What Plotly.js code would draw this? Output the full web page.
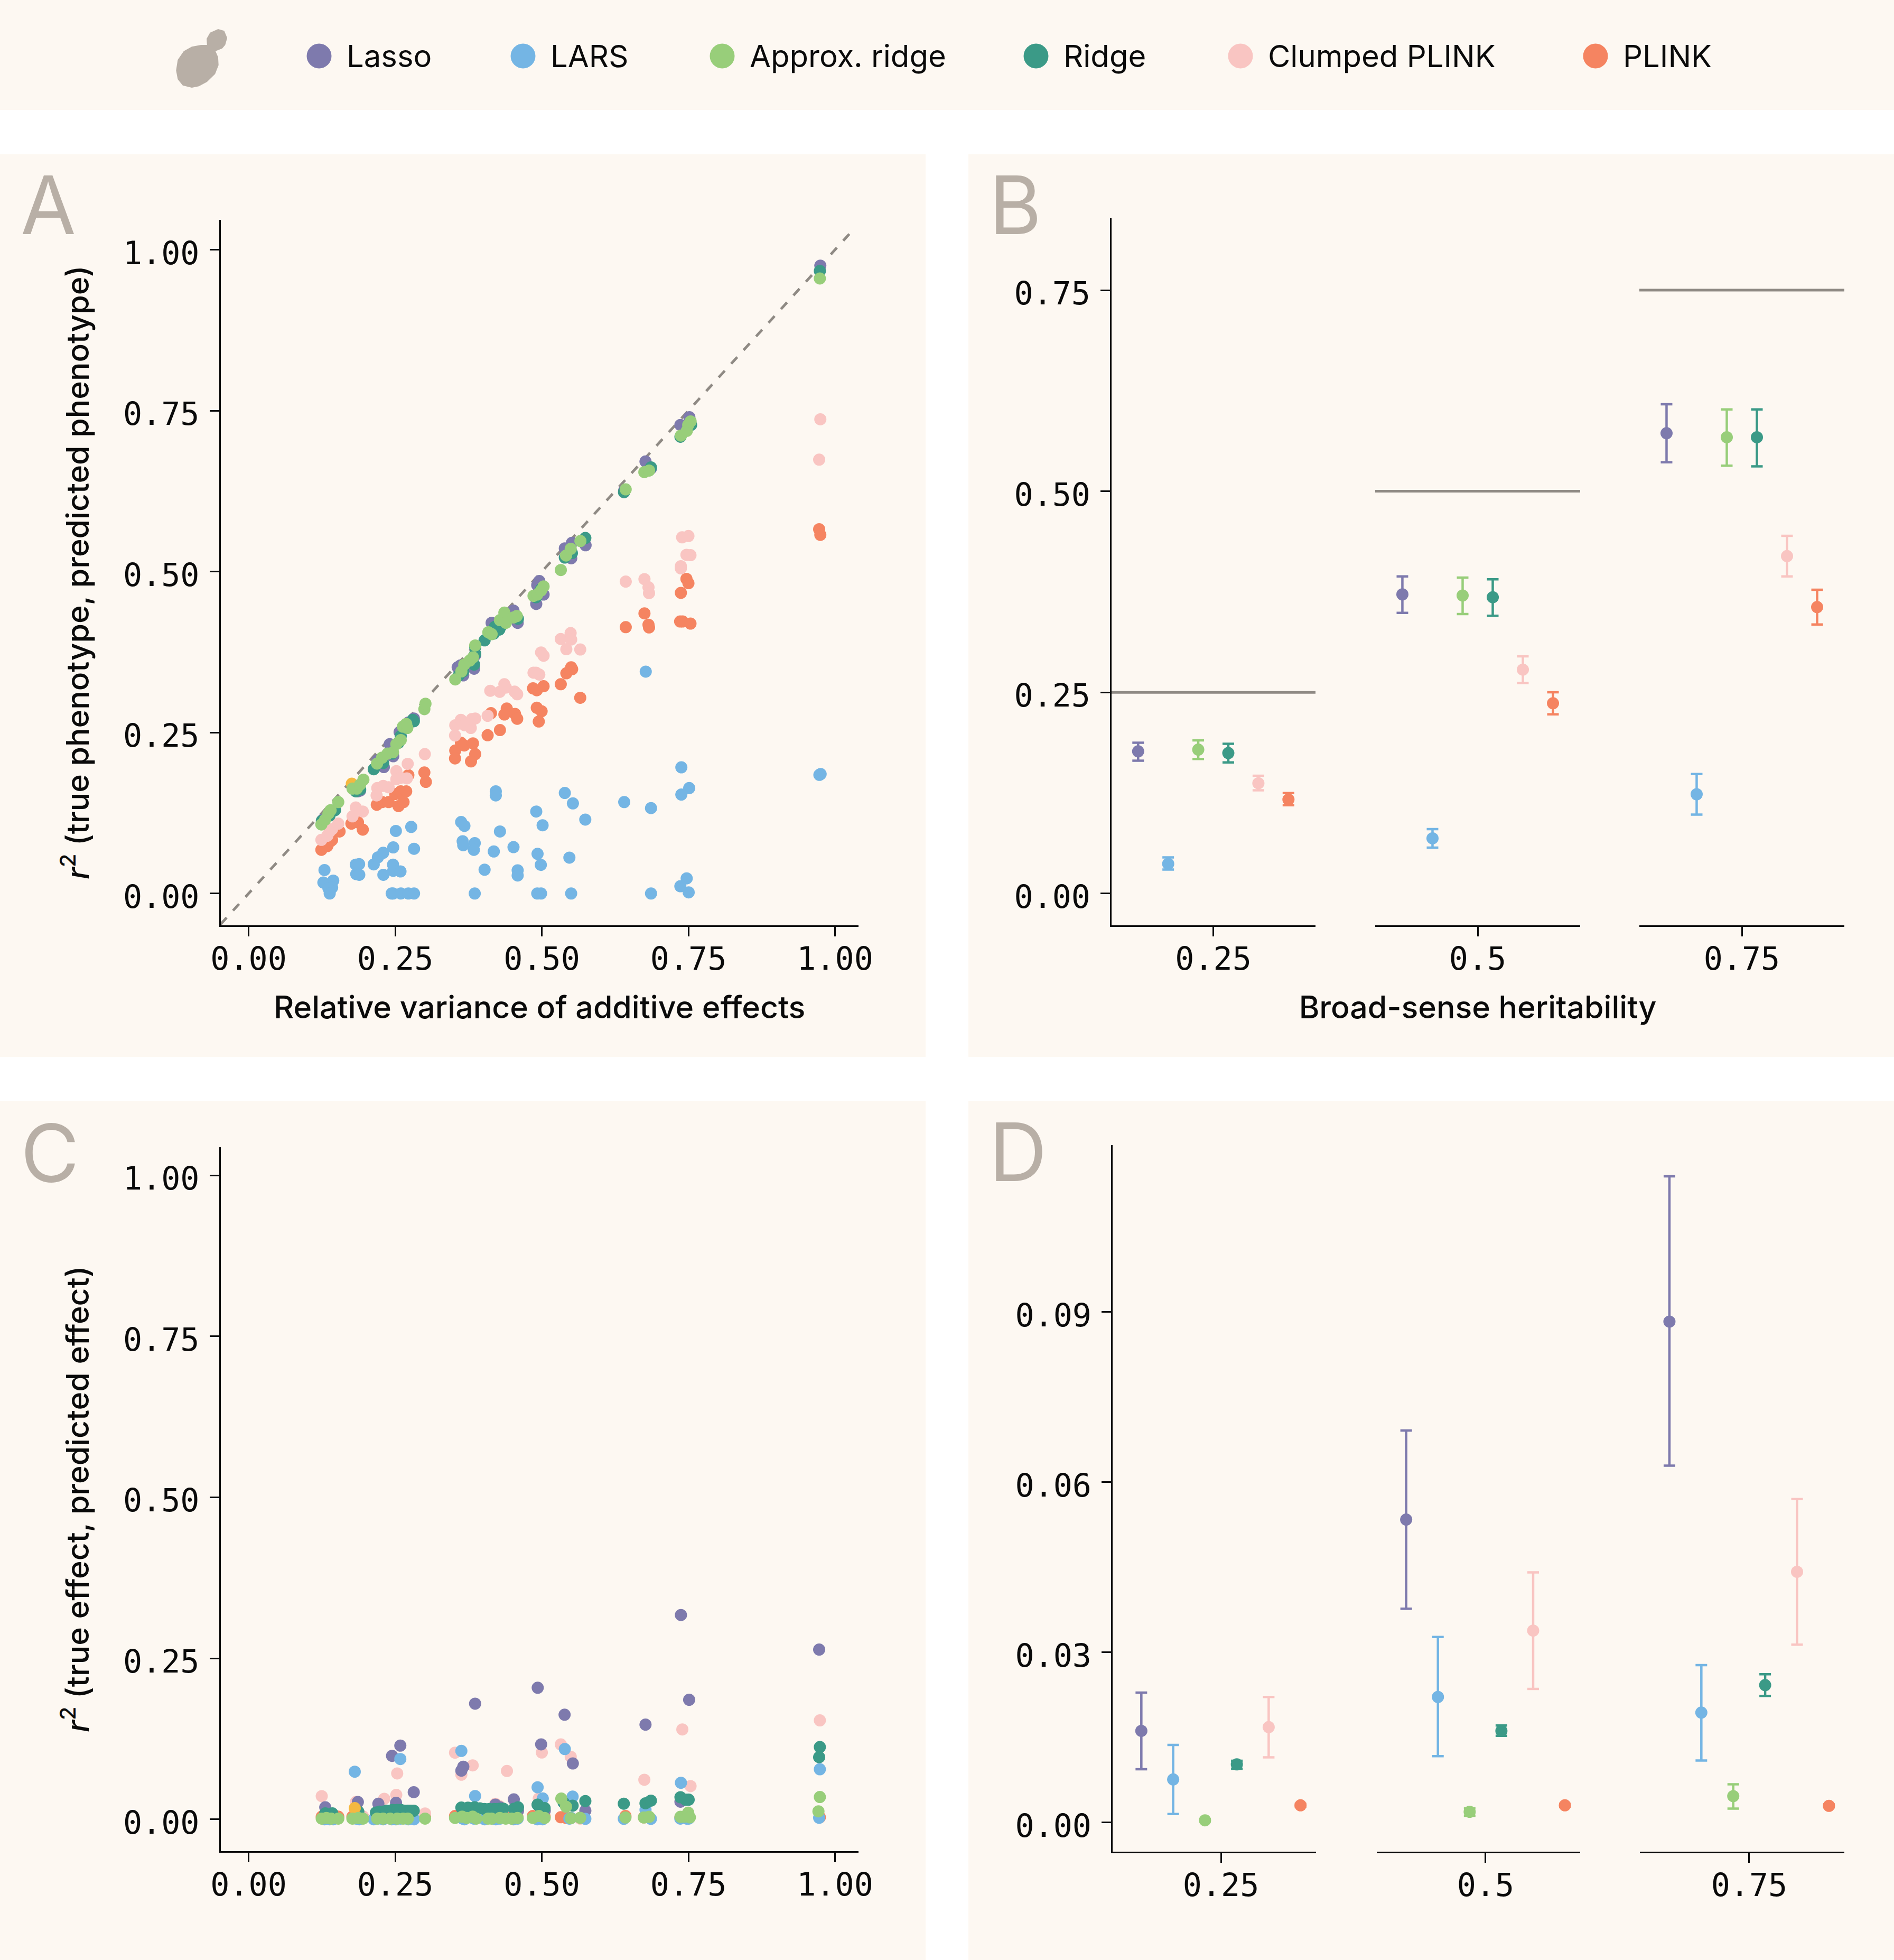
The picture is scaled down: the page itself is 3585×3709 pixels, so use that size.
<!DOCTYPE html>
<html><head><meta charset="utf-8">
<script src="https://cdn.plot.ly/plotly-3.0.1.min.js"></script>
<style>html,body{margin:0;padding:0;background:#fff}</style></head>
<body><div id="chart" style="width:3585px;height:3709px"></div>
<script>
const W=3585,H=3709;
const methods=['Lasso','LARS','Approx. ridge','Ridge','Clumped PLINK','PLINK'];
const colors=['#7E7AAD','#74B5E4','#98CE7A','#3B9A87','#F9C5C2','#F58461'];
const extraColor='#F5B841';
const heritabilityLabels=['0.25','0.5','0.75'];
const heritabilities=[0.25,0.5,0.75];
const scatterTicks=[0,0.25,0.5,0.75,1];
const scatterTickText=['0.00','0.25','0.50','0.75','1.00'];
const meanTicksB=[0,0.25,0.5,0.75];
const meanTickTextB=['0.00','0.25','0.50','0.75'];
const meanTicksD=[0,0.03,0.06,0.09];
const meanTickTextD=['0.00','0.03','0.06','0.09'];

// Panel A: relative additive variance (x) against r2 (y)
const plinkAx=[.1241,.1342,.1398,.1424,.1551,.1753,.1865,.1947,.2186,.2276,.2388,.25,.2556,.2594,.2642,.2687,.2724,.2997,.3023,.3524,.352,.362,.3677,.3826,.3864,.3792,.4076,.4286,.4133,.4402,.4361,.4543,.458,.485,.4914,.503,.4914,.4996,.4948,.5323,.5418,.55,.5517,.5655,.6431,.675,.6819,.6828,.7371,.7466,.75,.7358,.7401,.7535,.9729,.9749];
const plinkAy=[.0678,.0737,.0812,.0833,.0963,.1085,.1105,.0992,.1378,.142,.142,.1545,.1357,.1587,.142,.1587,.1838,.188,.1734,.222,.2098,.2341,.2299,.2332,.2165,.2052,.2458,.2538,.2801,.2873,.278,.2789,.2714,.3187,.3157,.322,.2885,.2831,.2672,.325,.3421,.3513,.3484,.304,.4137,.4351,.4175,.4133,.4669,.4887,.482,.4225,.4225,.4192,.5658,.557];
const clumpedAx=[.1241,.1342,.1424,.1529,.1379,.1772,.1828,.1947,.2194,.2183,.2295,.2388,.2519,.2519,.2594,.2698,.2713,.3005,.3524,.352,.362,.3684,.3789,.3807,.3864,.4076,.4121,.4282,.4361,.4387,.4536,.458,.4858,.4901,.4957,.4987,.503,.5323,.5491,.55,.5418,.5655,.6431,.675,.6819,.6828,.7392,.75,.7466,.7535,.7371,.7371,.9749,.9729];
const clumpedAy=[.0833,.0896,.1,.1085,.0959,.1198,.1336,.1273,.1637,.1524,.1671,.165,.1901,.1776,.1797,.1788,.2014,.2165,.2613,.2454,.2697,.2613,.2571,.2709,.2718,.276,.3149,.3132,.325,.3199,.3136,.3095,.343,.343,.34,.3744,.3693,.3953,.4045,.3945,.3794,.379,.4845,.4883,.4757,.4665,.5532,.5553,.526,.5255,.5084,.505,.7366,.6739];
const lassoAx=[.1267,.1398,.1865,.1902,.22,.2306,.2407,.2466,.2575,.2724,.2818,.3565,.3613,.366,.3845,.3864,.4144,.4218,.4517,.4588,.4957,.4922,.503,.4905,.5392,.5513,.5746,.5501,.6403,.6768,.686,.7363,.7516,.9749];
const lassoAy=[.1147,.1252,.1587,.16,.2069,.1964,.232,.2132,.2508,.2655,.2718,.3513,.3543,.3388,.3492,.3702,.4204,.41,.4393,.4204,.4853,.479,.4644,.4497,.5361,.5446,.5409,.5207,.6255,.671,.66,.7278,.7399,.9751];
const larsAx=[.1294,.1275,.1443,.1424,.1361,.1383,.1828,.1884,.1835,.1887,.2134,.2205,.2295,.2466,.2511,.2773,.2821,.2463,.2466,.259,.2298,.244,.2463,.2597,.2724,.2821,.3624,.368,.365,.366,.3856,.3841,.3856,.4215,.4215,.4286,.4181,.4517,.4024,.4588,.4588,.4905,.5013,.4927,.4983,.4922,.4987,.5392,.553,.5741,.547,.55,.6772,.6405,.6862,.6862,.7379,.7513,.7379,.747,.7362,.7504,.9733,.9754];
const larsAy=[.0364,.017,.02,.0092,.008,0,.0448,.0456,.0302,.029,.0452,.0561,.0632,.0716,.0972,.1034,.0695,.0448,.0352,.0343,.029,0,0,0,0,0,.111,.105,.0812,.075,.0783,.0678,0,.1587,.1524,.0963,.0653,.072,.0369,.036,.028,.1273,.106,.0616,.0444,0,0,.1562,.1399,.1148,.0557,0,.3446,.142,.1327,0,.196,.1637,.1537,.0235,.0113,.0017,.1843,.1855];
const ridgeAx=[.1249,.1379,.1473,.1828,.1902,.2134,.2295,.2444,.2556,.2594,.2724,.2799,.2818,.3584,.366,.3845,.3864,.3864,.4024,.4181,.42,.4275,.4312,.4368,.4592,.4901,.4987,.5392,.5513,.5742,.6402,.6861,.6829,.7364,.7545,.9741];
const ridgeAy=[.1127,.121,.1294,.1587,.1616,.193,.2027,.2173,.2341,.2446,.2634,.2697,.2676,.3388,.3451,.3555,.3723,.3827,.3932,.4037,.4142,.41,.4162,.4225,.4267,.4602,.4728,.5218,.5288,.5522,.6233,.6618,.6575,.7095,.7278,.967];
const approxAx=[.1241,.1305,.1361,.1398,.1529,.1772,.1846,.1902,.1958,.219,.2276,.2369,.2463,.2519,.2594,.2631,.2706,.2687,.2997,.3016,.3524,.3628,.3677,.377,.3826,.3864,.4088,.4144,.4286,.4361,.4387,.4573,.4517,.4858,.4922,.4987,.503,.5324,.5413,.5493,.5658,.643,.6748,.6829,.7372,.7472,.7496,.7537,.9741];
const approxAy=[.1072,.1147,.124,.1294,.142,.1629,.1629,.1692,.1767,.2018,.211,.2173,.2194,.232,.2383,.2592,.2571,.2634,.2864,.2948,.3325,.345,.3555,.3618,.3668,.3853,.4058,.4028,.4246,.4363,.4204,.4309,.4288,.4623,.4644,.4707,.477,.5024,.525,.5354,.5475,.6277,.6545,.657,.7113,.7186,.7278,.7333,.9553];
const extraAx=[.176];
const extraAy=[.1705];

// Panel C: relative additive variance (x) against effect r2 (y)
const plinkCx=[.1247,.1327,.1408,.1529,.177,.1871,.1951,.2192,.2293,.2414,.2534,.2635,.2715,.3009,.352,.3641,.3821,.4083,.4284,.4485,.4586,.4847,.4948,.5048,.5324,.5413,.5493,.5654,.6426,.674,.6829,.7364,.7496,.9741];
const plinkCy=[.004,.003,.003,.004,.004,.003,.004,.003,.002,.003,.002,.003,.002,.004,.005,.003,.003,.003,.002,.003,.003,.005,.004,.004,.0032,.002,.002,.002,.005,.003,.003,.003,.003,.0032];
const clumpedCx=[.1247,.183,.2313,.2518,.2534,.352,.3821,.3628,.4405,.5,.3009,.4948,.5324,.5493,.6748,.7396,.7536,.9741,.5654,.4208,.4284,.1951,.2715];
const clumpedCy=[.0359,.0268,.0318,.0378,.0712,.1034,.0837,.0692,.075,.1037,.009,.0323,.1162,.097,.0613,.1395,.0515,.1536,.001,.024,.02,.004,.012];
const lassoCx=[.2587,.2446,.2816,.1863,.2213,.2514,.3862,.3661,.3628,.4522,.4208,.4988,.493,.1307,.5388,.5529,.6768,.7372,.7512,.9729,.5742,.7364,.4594,.4284,.505,.1428,.2715];
const lassoCy=[.1144,.0985,.0421,.0268,.0241,.0255,.1795,.0816,.0755,.0309,.0227,.1163,.2042,.0186,.1624,.0867,.147,.3172,.1856,.2635,.0132,.0273,.0132,.0186,.0132,.005,.012];
const larsCx=[.181,.2587,.3628,.3862,.4928,.5016,.5392,.5525,.6768,.7372,.9741,.1275,.1294,.1361,.1383,.1424,.1443,.1835,.1884,.1887,.2134,.2205,.2295,.2298,.244,.2463,.2511,.259,.2724,.2773,.2821,.365,.368,.3841,.4024,.4181,.4215,.4286,.4517,.4588,.4922,.4983,.5013,.547,.55,.5742,.6398,.686,.7362,.747,.7504,.9729];
const larsCy=[.0739,.0936,.1062,.0361,.0496,.0323,.109,.0352,.0148,.0566,.0776,.001,0,.001,0,.001,0,.001,.001,0,0,.001,0,.001,0,.001,0,.001,0,.001,0,.001,0,.001,0,.001,0,.001,0,.001,0,.001,0,.001,.002,.0006,.0006,.0006,.001,.001,.001,.0022];
const ridgeCx=[.1307,.1428,.1871,.2172,.2293,.2454,.2595,.2715,.2816,.3628,.3853,.4023,.4184,.4284,.4526,.4594,.4928,.4988,.5048,.493,.501,.5372,.5525,.5742,.6398,.6768,.686,.7364,.7504,.7452,.9741,.9729,.2233,.2354,.2535,.2655,.2765,.3741,.3943,.4103,.4234,.4344];
const ridgeCy=[.0091,.0091,.0118,.0104,.0118,.0145,.0145,.0132,.0132,.0181,.0186,.0159,.0159,.0164,.0164,.0186,.0227,.0164,.0173,.0226,.0163,.0258,.0211,.0283,.0242,.0248,.0289,.0342,.0305,.0305,.1121,.0964,.0118,.0132,.0145,.0132,.0132,.018,.017,.016,.016,.0164];
const approxCx=[.1247,.1327,.1408,.1529,.177,.1871,.1951,.2192,.2293,.2414,.2534,.2635,.2715,.3009,.352,.3641,.3721,.3821,.3882,.4083,.4143,.4284,.4385,.4485,.4586,.4847,.4948,.5048,.5332,.5413,.5493,.5654,.6426,.674,.6829,.7364,.7425,.7496,.7525,.9741,.9717];
const approxCy=[.001,.002,.001,.001,.001,.002,.001,.001,.001,.001,.001,.001,.001,.001,.002,.004,.002,.004,.001,.001,.001,.002,.001,.001,.002,.002,.005,.002,.0321,.0195,.0016,.0022,.0028,.0028,.0038,.0038,.004,.0101,.003,.0346,.0123];
const extraCx=[.181];
const extraCy=[.0173];

// Panels B and D: rows follow methods, columns follow heritabilities
const bMean=[[.1766,.3718,.5721],[.0368,.0685,.1233],[.1788,.3704,.5671],[.1745,.3682,.5671],[.137,.2782,.4194],[.1168,.2364,.356]];
const bLow=[[.165,.3488,.5361],[.0296,.057,.098],[.1672,.3473,.5318],[.1629,.3452,.531],[.1283,.2616,.3942],[.1096,.2227,.3344]];
const bHigh=[[.1874,.3942,.6082],[.0448,.08,.1485],[.1903,.3927,.6017],[.186,.3906,.6017],[.1463,.2948,.4446],[.1247,.2501,.3776]];
const dMean=[[.01616,.0534,.0883],[.0076,.02214,.01939],[.0004,.0019,.00466],[.01026,.01616,.02423],[.01682,.03383,.0442],[.00304,.00304,.00295]];
const dLow=[[.0094,.0377,.0629],[.00152,.0117,.01093],[.0002,.0012,.00247],[.0095,.0153,.02233],[.0115,.02357,.03136],[.0028,.0028,.0027]];
const dHigh=[[.0229,.0691,.1139],[.01369,.0327,.02775],[.0006,.0025,.00675],[.0109,.0171,.02614],[.02214,.0441,.05702],[.0033,.0033,.0032]];

const INK='#0a0a0a',BAND='#FDF8F2',LETTER='#B8AFA6',LINE='#8F8A84';
const MONO='"DejaVu Sans Mono", monospace',SANS='Inter, "Noto Sans", sans-serif';
const px=x=>x/W, py=y=>1-y/H;
const domX=(a,b)=>[px(a),px(b)], domY=(t,b)=>[py(b),py(t)];
const XSTAND=-9,YSTAND=7,YSHIFT=6;

function axisBase(extra){
  return Object.assign({showline:true,linewidth:3,linecolor:INK,ticks:'outside',ticklen:18,tickwidth:3,tickcolor:INK,
    showgrid:false,zeroline:false,tickfont:{family:MONO,size:60,color:INK}},extra);
}
const layout={width:W,height:H,autosize:false,margin:{l:0,r:0,t:0,b:0,pad:0},paper_bgcolor:'#ffffff',plot_bgcolor:'rgba(0,0,0,0)',showlegend:false,shapes:[],annotations:[]};

// backgrounds
[[0,0,W,208],[0,292,1752,2000],[1833,292,W,2000],[0,2083,1752,H],[1833,2083,W,H]].forEach(r=>layout.shapes.push({type:'rect',layer:'below',xref:'paper',yref:'paper',x0:px(r[0]),x1:px(r[2]),y0:py(r[3]),y1:py(r[1]),fillcolor:BAND,line:{width:0}}));

// yeast logo outline
const logo=[[391.8,85],[391.1,73.3],[397.6,61.7],[412.9,55],[424.4,58.3],[430.1,71.7],[426.3,85],[420.6,91.7],[407.9,96.7],[412.9,108.3],[413.7,123.3],[407.2,140],[391.8,155],[376.5,163.3],[363.1,166],[345.9,161.7],[336.4,150],[333.3,133.3],[336.4,113.3],[347.8,96.7],[363.1,88.3],[380.4,85]];
layout.shapes.push({type:'path',xref:'paper',yref:'paper',layer:'below',fillcolor:LETTER,line:{width:0},path:'M'+logo.map(p=>px(p[0]).toFixed(5)+','+py(p[1]).toFixed(5)).join(' L')+' Z'});

// legend row
const legendDot=[604,990,1367,1961,2348,3020];
methods.forEach((m,i)=>{
  layout.shapes.push({type:'circle',xref:'paper',yref:'paper',xsizemode:'pixel',ysizemode:'pixel',xanchor:px(legendDot[i]),yanchor:py(106),x0:-23.5,x1:23.5,y0:-23.5,y1:23.5,fillcolor:colors[i],line:{width:0}});
  layout.annotations.push({xref:'paper',yref:'paper',x:px(legendDot[i]+50),y:py(106),xanchor:'left',yanchor:'middle',showarrow:false,text:m,font:{family:SANS,size:58,color:INK}});
});

// panel letters
[['A',37,388],['B',1870,388],['C',37,2182],['D',1870,2180]].forEach(l=>layout.annotations.push({xref:'paper',yref:'paper',x:px(l[1]),y:py(l[2]),xanchor:'left',yanchor:'middle',showarrow:false,text:l[0],font:{family:SANS,size:152,color:LETTER,weight:400}}));

const titleFont={family:SANS,size:59,color:INK,weight:500};
const R2=t=>'<i>r</i><sup>2</sup> ('+t+')';

// A
layout.xaxis=axisBase({domain:domX(417.5,1625),range:[-.0478,1.04],anchor:'y',ticklabelstandoff:XSTAND,tickvals:scatterTicks,ticktext:scatterTickText,title:{text:'Relative variance of additive effects',font:titleFont,standoff:39}});
layout.yaxis=axisBase({domain:domY(416,1750.5),range:[-.049,1.0464],anchor:'x',ticklabelstandoff:YSTAND,ticklabelshift:YSHIFT,tickvals:scatterTicks,ticktext:scatterTickText,title:{text:R2('true phenotype, predicted phenotype'),font:titleFont,standoff:46}});
// C
layout.xaxis5=axisBase({domain:domX(417.5,1625),range:[-.0478,1.04],anchor:'y3',ticklabelstandoff:XSTAND,tickvals:scatterTicks,ticktext:scatterTickText});
layout.yaxis3=axisBase({domain:domY(2171,3502.5),range:[-.0491,1.0437],anchor:'x5',ticklabelstandoff:YSTAND,ticklabelshift:YSHIFT,tickvals:scatterTicks,ticktext:scatterTickText,title:{text:R2('true effect, predicted effect'),font:titleFont,standoff:46}});
// B
[[2,2104,2490,.391,1.612],[3,2603,2991,.3875,1.6125],[4,3103,3491,.3875,1.6125]].forEach((f,i)=>{
  const o=axisBase({domain:domX(f[1],f[2]),range:[f[3],f[4]],anchor:'y2',ticklabelstandoff:XSTAND,tickvals:[1],ticktext:[heritabilityLabels[i]]});
  if(i===1)o.title={text:'Broad-sense heritability',font:titleFont,standoff:39};
  layout['xaxis'+f[0]]=o;
});
layout.yaxis2=axisBase({domain:domY(413,1750.5),range:[-.0393,.8394],anchor:'x2',ticklabelstandoff:YSTAND,ticklabelshift:YSHIFT,tickvals:meanTicksB,ticktext:meanTickTextB});
// D
[[6,2106,2491,.3877,1.5376],[7,2606,2991,.3833,1.5367],[8,3104,3491,.3833,1.5367]].forEach((f,i)=>{
  layout['xaxis'+f[0]]=axisBase({domain:domX(f[1],f[2]),range:[f[3],f[4]],anchor:'y4',ticklabelstandoff:XSTAND,tickvals:[1],ticktext:[heritabilityLabels[i]]});
});
layout.yaxis4=axisBase({domain:domY(2167,3503.5),range:[-.00508,.1194],anchor:'x6',ticklabelstandoff:YSTAND,ticklabelshift:YSHIFT,tickvals:meanTicksD,ticktext:meanTickTextD});

// true heritability reference lines
[['x2',0],['x3',1],['x4',2]].forEach(f=>layout.shapes.push({type:'line',xref:f[0]+' domain',yref:'y2',x0:0,x1:1,y0:heritabilities[f[1]],y1:heritabilities[f[1]],line:{color:LINE,width:5}}));

const traces=[];
const MS=23;
function scatterTrace(name,color,x,y,xa,ya){traces.push({type:'scatter',mode:'markers',name,x,y,xaxis:xa,yaxis:ya,marker:{color,size:MS,line:{width:0}},hoverinfo:'name+x+y'});}

// diagonal
const diagonal=[-.0478,1.025];
traces.push({type:'scatter',mode:'lines',name:'y = x',x:diagonal,y:diagonal,xaxis:'x',yaxis:'y',line:{color:LINE,width:5,dash:'17px,18px'},hoverinfo:'skip'});

const aSets=[[plinkAx,plinkAy,5],[clumpedAx,clumpedAy,4],[lassoAx,lassoAy,0],[larsAx,larsAy,1]];
aSets.forEach(s=>scatterTrace(methods[s[2]],colors[s[2]],s[0],s[1],'x','y'));
scatterTrace('Other',extraColor,extraAx,extraAy,'x','y');
scatterTrace(methods[3],colors[3],ridgeAx,ridgeAy,'x','y');
scatterTrace(methods[2],colors[2],approxAx,approxAy,'x','y');

const cSets=[[plinkCx,plinkCy,5],[clumpedCx,clumpedCy,4],[lassoCx,lassoCy,0],[larsCx,larsCy,1],[ridgeCx,ridgeCy,3]];
cSets.forEach(s=>scatterTrace(methods[s[2]],colors[s[2]],s[0],s[1],'x5','y3'));
scatterTrace('Other',extraColor,extraCx,extraCy,'x5','y3');
scatterTrace(methods[2],colors[2],approxCx,approxCy,'x5','y3');

// B and D dodged means with error bars
function meanPanel(mean,low,high,xaxes,ya,step){
  xaxes.forEach((xa,h)=>{
    methods.forEach((m,i)=>{
      traces.push({type:'scatter',mode:'markers',name:m,x:[1+(i-2.5)*step],y:[mean[i][h]],xaxis:xa,yaxis:ya,
        marker:{color:colors[i],size:MS,line:{width:0}},
        error_y:{type:'data',symmetric:false,array:[high[i][h]-mean[i][h]],arrayminus:[mean[i][h]-low[i][h]],color:colors[i],thickness:4.5,width:11}});
    });
  });
}
meanPanel(bMean,bLow,bHigh,['x2','x3','x4'],'y2',.18);
meanPanel(dMean,dLow,dHigh,['x6','x7','x8'],'y4',.18);

Plotly.newPlot('chart',traces,layout,{displayModeBar:false,responsive:false});
</script></body></html>
